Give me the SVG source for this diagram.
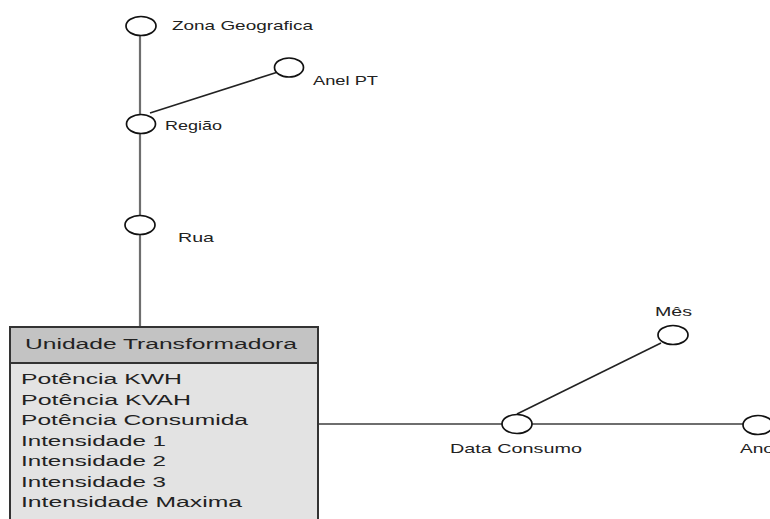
<svg xmlns="http://www.w3.org/2000/svg" width="770" height="519" viewBox="0 0 770 519">
<style>
.node{fill:#fff;stroke:#111;stroke-width:1.7}
.lbl{font-family:"Liberation Sans",Arial,sans-serif;font-size:13px;fill:#222}
.box{font-family:"Liberation Sans",Arial,sans-serif;font-size:15.5px;fill:#222}
.gray{stroke:#6e6e6e;stroke-width:2.2;fill:none}
.dark{stroke:#222;stroke-width:1.6;fill:none}
</style>
<rect width="770" height="519" fill="#fff"/>
<g id="connectors">
<line class="gray" x1="140" y1="35" x2="140" y2="327"/>
<line class="dark" x1="150" y1="113" x2="278" y2="72"/>
<line class="gray" x1="318" y1="424" x2="745" y2="424"/>
<line class="dark" x1="517" y1="414" x2="661" y2="343"/>
</g>
<g id="zona">
<ellipse class="node" cx="141" cy="26" rx="15" ry="9.5"/>
<text class="lbl" x="172" y="30" textLength="141" lengthAdjust="spacingAndGlyphs">Zona Geografica</text>
</g>
<g id="anel">
<ellipse class="node" cx="289" cy="67.5" rx="14.5" ry="9.5"/>
<text class="lbl" x="313" y="85" textLength="65" lengthAdjust="spacingAndGlyphs">Anel PT</text>
</g>
<g id="regiao">
<ellipse class="node" cx="141" cy="124" rx="14.5" ry="9.5"/>
<text class="lbl" x="165" y="130" textLength="57" lengthAdjust="spacingAndGlyphs">Região</text>
</g>
<g id="rua">
<ellipse class="node" cx="140" cy="225" rx="15" ry="9.5"/>
<text class="lbl" x="178" y="242" textLength="36" lengthAdjust="spacingAndGlyphs">Rua</text>
</g>
<g id="unidade">
<rect x="10" y="327" width="308" height="200" fill="#e3e3e3" stroke="#333" stroke-width="2"/>
<rect x="10" y="327" width="308" height="36" fill="#c3c3c3" stroke="#333" stroke-width="2"/>
<text class="box" x="25" y="349" textLength="272" lengthAdjust="spacingAndGlyphs">Unidade Transformadora</text>
<text class="box" x="21" y="384" textLength="161" lengthAdjust="spacingAndGlyphs">Potência KWH</text>
<text class="box" x="21" y="404.5" textLength="170" lengthAdjust="spacingAndGlyphs">Potência KVAH</text>
<text class="box" x="21" y="425" textLength="227" lengthAdjust="spacingAndGlyphs">Potência Consumida</text>
<text class="box" x="21" y="445.5" textLength="145" lengthAdjust="spacingAndGlyphs">Intensidade 1</text>
<text class="box" x="21" y="466" textLength="145" lengthAdjust="spacingAndGlyphs">Intensidade 2</text>
<text class="box" x="21" y="486.5" textLength="145" lengthAdjust="spacingAndGlyphs">Intensidade 3</text>
<text class="box" x="21" y="507" textLength="221" lengthAdjust="spacingAndGlyphs">Intensidade Maxima</text>
</g>
<g id="data">
<ellipse class="node" cx="517" cy="424" rx="15" ry="9.5"/>
<text class="lbl" x="450" y="453" textLength="132" lengthAdjust="spacingAndGlyphs">Data Consumo</text>
</g>
<g id="mes">
<ellipse class="node" cx="673" cy="335" rx="15" ry="9.5"/>
<text class="lbl" x="655" y="316" textLength="37" lengthAdjust="spacingAndGlyphs">Mês</text>
</g>
<g id="ano">
<ellipse class="node" cx="758" cy="425" rx="15" ry="9.5"/>
<text class="lbl" x="740" y="453" textLength="34" lengthAdjust="spacingAndGlyphs">Ano</text>
</g>
</svg>
